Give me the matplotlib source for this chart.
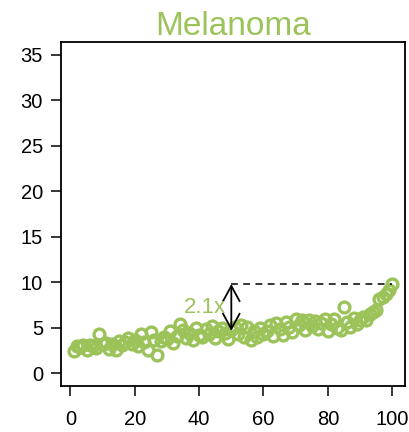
import numpy as np
import matplotlib.pyplot as plt

plt.rcParams['font.family'] = ['Liberation Sans', 'DejaVu Sans']

title = "Melanoma"
green = "#9bc35a"

# fold values for samples 1..100
rank = list(range(1, 101))
fold = [2.4, 3.0, 2.9, 3.1, 2.6, 3.1, 3.0, 2.8, 4.3, 3.2,
        3.3, 2.7, 3.2, 2.5, 3.5, 3.1, 3.4, 3.9, 3.2, 3.6,
        3.0, 4.3, 3.4, 2.6, 4.5, 3.7, 2.0, 3.5, 4.0, 3.8,
        4.6, 3.3, 4.1, 5.4, 4.8, 3.9, 4.4, 3.7, 5.0, 4.2,
        4.0, 4.9, 4.3, 5.2, 3.9, 4.6, 5.0, 4.4, 3.8, 4.7,
        5.1, 4.3, 5.3, 4.0, 5.1, 3.6, 4.6, 4.0, 5.0, 4.3,
        4.6, 5.3, 4.1, 5.5, 4.9, 4.2, 5.6, 5.1, 4.5, 6.0,
        5.3, 5.8, 4.7, 5.9, 5.2, 5.7, 4.9, 5.5, 6.0, 4.6,
        5.4, 6.0, 5.0, 4.8, 7.3, 5.6, 5.1, 6.1, 5.4, 5.9,
        6.2, 5.8, 6.5, 6.7, 6.9, 8.2, 8.4, 8.7, 9.1, 9.8]

ratio_label = "2.1x"
mid_x = 50
top_val = max(fold)
mid_val = top_val / 2.1

fig = plt.figure(figsize=(4.09, 4.32), dpi=100)
ax = fig.add_axes([0.149, 0.1065, 0.841, 0.7963])

ax.plot(rank, fold, 'o', mfc='none', mec=green, ms=7.8, mew=2.4)

# max vs median
ax.plot([mid_x, 100], [top_val, top_val], color='black', ls=(0, (4.5, 3.5)), lw=1.1)
ax.annotate('', xy=(mid_x, top_val), xytext=(mid_x, mid_val),
            arrowprops=dict(arrowstyle='<->, head_length=1.1, head_width=0.6',
                            color='black', lw=1.3, shrinkA=0, shrinkB=0))
ax.text(mid_x - 1.8, 7.2, ratio_label, color=green, fontsize=16, ha='right', va='center')

ax.set_xlim(1 - 3.96, 100 + 3.96)
ax.set_ylim(-1.4, 36.4)
ax.set_xticks([0, 20, 40, 60, 80, 100])
ax.set_yticks([0, 5, 10, 15, 20, 25, 30, 35])
ax.tick_params(direction='out', length=7, width=1.1, labelsize=14.5, pad=6)
ax.tick_params(axis='x', pad=10)
for s in ax.spines.values():
    s.set_linewidth(1.3)

ax.set_title(title, color=green, fontsize=24, pad=3)

fig.savefig('out.png', dpi=100)
